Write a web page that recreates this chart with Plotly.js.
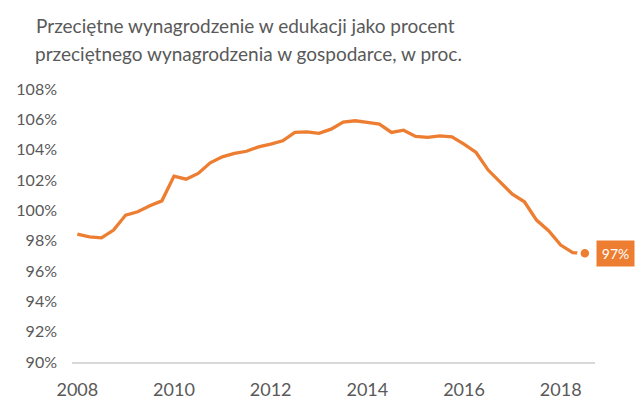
<!DOCTYPE html>
<html>
<head>
<meta charset="utf-8">
<script src="https://cdn.plot.ly/plotly-3.0.1.min.js"></script>
<style>
  html, body { margin: 0; padding: 0; background: #fff; }
  #chart { width: 640px; height: 404px; }
</style>
</head>
<body>
<div id="chart"></div>
<script>
(function () {
  var ORANGE = "#ED7D31";
  var GREY = "#595959";

  // kwartały 2008 Q1 - 2018 Q3
  var quarters = [
    2008, 2008.25, 2008.5, 2008.75,
    2009, 2009.25, 2009.5, 2009.75,
    2010, 2010.25, 2010.5, 2010.75,
    2011, 2011.25, 2011.5, 2011.75,
    2012, 2012.25, 2012.5, 2012.75,
    2013, 2013.25, 2013.5, 2013.75,
    2014, 2014.25, 2014.5, 2014.75,
    2015, 2015.25, 2015.5, 2015.75,
    2016, 2016.25, 2016.5, 2016.75,
    2017, 2017.25, 2017.5, 2017.75,
    2018, 2018.25, 2018.5
  ];
  var ratio = [
    98.44, 98.26, 98.19, 98.70,
    99.69, 99.91, 100.30, 100.63,
    102.26, 102.06, 102.44, 103.14,
    103.53, 103.76, 103.90, 104.19,
    104.37, 104.59, 105.14, 105.18,
    105.08, 105.36, 105.82, 105.91,
    105.80, 105.69, 105.14, 105.29,
    104.88, 104.81, 104.92, 104.85,
    104.37, 103.82, 102.66, 101.89,
    101.07, 100.57, 99.36, 98.66,
    97.71, 97.21, 97.17
  ];
  var yearTicks = [2008, 2010, 2012, 2014, 2016, 2018];
  var pctTicks = [90, 92, 94, 96, 98, 100, 102, 104, 106, 108];
  var titleLines = [
    "Przeciętne wynagrodzenie w edukacji jako procent",
    "przeciętnego wynagrodzenia w gospodarce, w proc."
  ];

  var lastX = quarters[quarters.length - 1];
  var lastY = ratio[ratio.length - 1];

  var line = {
    x: quarters,
    y: ratio,
    type: "scatter",
    mode: "lines",
    line: { color: ORANGE, width: 3.3 },
    hoverinfo: "skip",
    cliponaxis: false
  };
  var dot = {
    x: [lastX],
    y: [lastY],
    type: "scatter",
    mode: "markers",
    marker: { color: ORANGE, size: 12, line: { color: "#fff", width: 3.5 } },
    hoverinfo: "skip",
    cliponaxis: false
  };

  // plot area: x 72..595, y 80..362
  var layout = {
    width: 640,
    height: 404,
    margin: { l: 72, r: 45, t: 80, b: 42 },
    paper_bgcolor: "#fff",
    plot_bgcolor: "#fff",
    showlegend: false,
    font: { family: "Lato, 'Liberation Sans', sans-serif", color: GREY },
    title: {
      text: titleLines[0],
      font: { size: 19, color: GREY },
      xref: "container",
      yref: "container",
      x: 36 / 640,
      xanchor: "left",
      y: 1 - 26 / 404,
      yanchor: "middle"
    },
    xaxis: {
      range: [2007.89, 2018.71],
      tickvals: yearTicks,
      ticktext: yearTicks.map(String),
      showgrid: false,
      zeroline: false,
      showline: true,
      linecolor: "#D9D9D9",
      linewidth: 1.5,
      ticks: "",
      ticklabelstandoff: 11,
      tickfont: { size: 18, color: GREY },
      fixedrange: true
    },
    yaxis: {
      range: [90, 108.6],
      tickvals: pctTicks,
      ticktext: pctTicks.map(function (v) { return v + "%"; }),
      showgrid: false,
      zeroline: false,
      showline: false,
      ticks: "",
      ticklabelstandoff: 14,
      tickfont: { size: 16, color: GREY },
      fixedrange: true
    },
    annotations: [
      {
        xref: "paper",
        yref: "paper",
        x: (36 - 72) / 523,
        y: (362 - 53) / 282,
        xanchor: "left",
        yanchor: "middle",
        xshift: -3,
        showarrow: false,
        text: titleLines[1],
        font: { size: 19, color: GREY }
      },
      {
        x: lastX,
        y: lastY,
        xref: "x",
        yref: "y",
        xanchor: "left",
        yanchor: "middle",
        xshift: 11,
        showarrow: false,
        text: Math.round(lastY) + "%",
        font: { size: 14, color: "#fff" },
        bgcolor: ORANGE,
        borderpad: 3,
        width: 31,
        height: 19
      }
    ]
  };

  Plotly.newPlot("chart", [line, dot], layout, { displayModeBar: false, staticPlot: true });
})();
</script>
</body>
</html>
